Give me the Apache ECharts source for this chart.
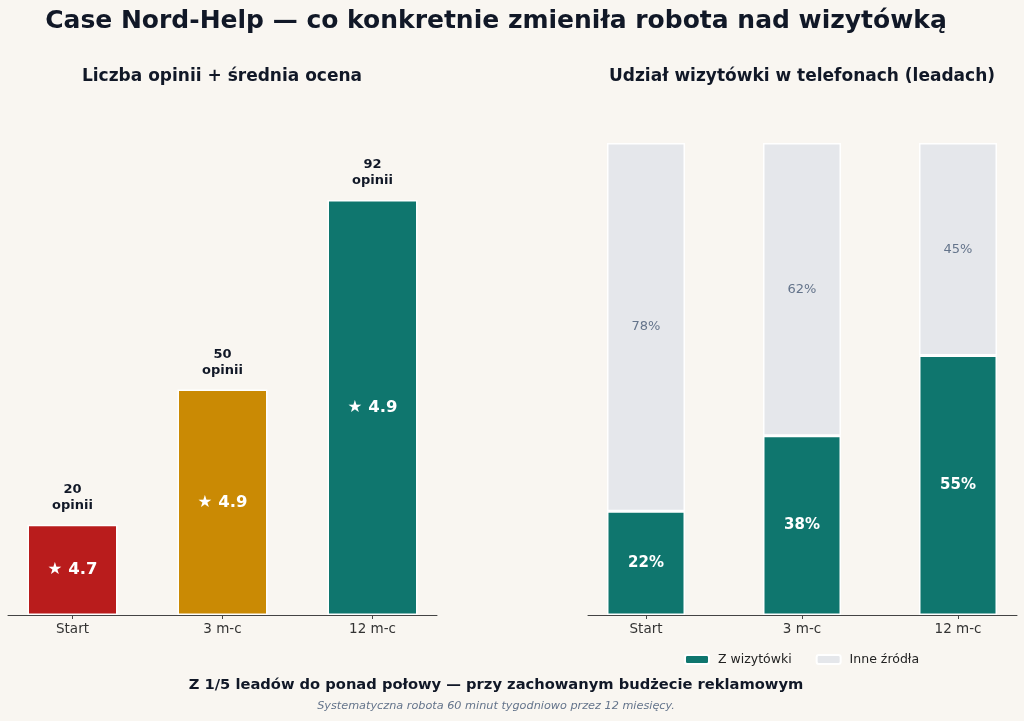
<!DOCTYPE html>
<html>
<head>
<meta charset="utf-8">
<script src="https://cdn.jsdelivr.net/npm/echarts@6/dist/echarts.min.js"></script>
<style>
  html, body { margin: 0; padding: 0; background: #f9f6f1; }
  #chart { width: 1024px; height: 721px; }
</style>
</head>
<body>
<div id="chart"></div>
<script>
const stages = ["Start", "3 m-c", "12 m-c"];
const opinions = [20, 50, 92];
const ratings = [4.7, 4.9, 4.9];
const barColors = ["#b91c1c", "#ca8a04", "#0f766e"];
const fromCard = [22, 38, 55];
const otherSources = [78, 62, 45];

const FONT = "DejaVu Sans";
const ink = "#111827";
const muted = "#64748b";

const positions = stages.map((s, i) => i);
const pairs = (arr) => arr.map((v, i) => [i, v]);

const chart = echarts.init(document.getElementById("chart"));

// visible x axis (value axis so the end margins match the picture)
const xAxisBase = (grid, min, max) => ({
  type: "value",
  gridIndex: grid,
  min: min,
  max: max,
  splitLine: { show: false },
  axisLine: { show: true, lineStyle: { color: "#444", width: 1 } },
  axisTick: { show: true, customValues: positions, length: 4, lineStyle: { color: "#444" } },
  axisLabel: {
    customValues: positions,
    formatter: (v) => stages[Math.round(v)],
    fontFamily: FONT, fontSize: 13.5, color: "#333", margin: 7
  }
});

const yAxisBase = (grid) => ({
  type: "value",
  gridIndex: grid,
  min: 0,
  max: 100,
  show: false
});

let option = {
  backgroundColor: "#f9f6f1",
  animation: false,
  textStyle: { fontFamily: FONT },
  grid: [
    { left: 8, width: 429, top: 164, height: 451 },
    { left: 588, width: 429, top: 143, height: 472 },
    // bars of the right chart: category centres at 646 / 802 / 958
    { left: 646, width: 312, top: 143, height: 472 }
  ],
  xAxis: [
    xAxisBase(0, -0.43, 2.43),
    xAxisBase(1, -0.372, 2.378),
    { type: "category", gridIndex: 2, data: stages, boundaryGap: false, show: false }
  ],
  yAxis: [yAxisBase(0), yAxisBase(1), yAxisBase(2)],
  legend: {
    left: 679,
    top: 648,
    itemWidth: 24,
    itemHeight: 9,
    itemGap: 24,
    data: ["Z wizytówki", "Inne źródła"],
    formatter: (n) => " " + n,
    textStyle: { fontFamily: FONT, fontSize: 12.5, color: "#222" }
  },
  series: [
    {
      name: "Opinie",
      type: "bar",
      xAxisIndex: 0,
      yAxisIndex: 0,
      barWidth: 90,
      data: opinions.map((v, i) => ({
        value: [i, v],
        itemStyle: { color: barColors[i] }
      })),
      itemStyle: { borderColor: "#fff", borderWidth: 1.5 },
      label: {
        show: true,
        position: "inside",
        formatter: (p) => "★ " + ratings[p.dataIndex].toFixed(1),
        fontFamily: FONT, fontSize: 16.5, fontWeight: "bold", color: "#fff"
      }
    },
    {
      // overlay only for the count label above each bar
      name: "Opinie-label",
      type: "bar",
      xAxisIndex: 0,
      yAxisIndex: 0,
      barWidth: 90,
      barGap: "-100%",
      data: pairs(opinions),
      itemStyle: { color: "rgba(0,0,0,0)" },
      silent: true,
      label: {
        show: true,
        position: "top",
        distance: 11,
        formatter: (p) => p.value[1] + "\nopinii",
        fontFamily: FONT, fontSize: 13, fontWeight: "bold", color: ink, lineHeight: 16
      }
    },
    {
      name: "Z wizytówki",
      type: "bar",
      stack: "leads",
      xAxisIndex: 2,
      yAxisIndex: 2,
      barWidth: 78,
      data: fromCard,
      itemStyle: { color: "#0f766e", borderColor: "#fff", borderWidth: 1.5 },
      label: {
        show: true,
        position: "inside",
        formatter: (p) => p.value + "%",
        fontFamily: FONT, fontSize: 15, fontWeight: "bold", color: "#fff"
      }
    },
    {
      name: "Inne źródła",
      type: "bar",
      stack: "leads",
      xAxisIndex: 2,
      yAxisIndex: 2,
      barWidth: 78,
      data: otherSources,
      itemStyle: { color: "#e5e7eb", borderColor: "#fff", borderWidth: 1.5 },
      label: {
        show: true,
        position: "inside",
        formatter: (p) => p.value + "%",
        fontFamily: FONT, fontSize: 13, color: muted
      }
    }
  ],
  graphic: [
    {
      type: "text", x: 496, y: 21,
      style: {
        text: "Case Nord-Help — co konkretnie zmieniła robota nad wizytówką",
        textAlign: "center", textVerticalAlign: "middle",
        fontFamily: FONT, fontSize: 25, fontWeight: "bold", fill: ink
      }
    },
    {
      type: "text", x: 222, y: 77,
      style: {
        text: "Liczba opinii + średnia ocena",
        textAlign: "center", textVerticalAlign: "middle",
        fontFamily: FONT, fontSize: 17, fontWeight: "bold", fill: ink
      }
    },
    {
      type: "text", x: 802, y: 77,
      style: {
        text: "Udział wizytówki w telefonach (leadach)",
        textAlign: "center", textVerticalAlign: "middle",
        fontFamily: FONT, fontSize: 17, fontWeight: "bold", fill: ink
      }
    },
    {
      type: "text", x: 496, y: 685,
      style: {
        text: "Z 1/5 leadów do ponad połowy — przy zachowanym budżecie reklamowym",
        textAlign: "center", textVerticalAlign: "middle",
        fontFamily: FONT, fontSize: 14.7, fontWeight: "bold", fill: ink
      }
    },
    {
      type: "text", x: 496, y: 706,
      style: {
        text: "Systematyczna robota 60 minut tygodniowo przez 12 miesięcy.",
        textAlign: "center", textVerticalAlign: "middle",
        fontFamily: FONT, fontSize: 11.25, fontStyle: "italic", fill: muted
      }
    }
  ]
};

chart.setOption(option);
</script>
</body>
</html>
